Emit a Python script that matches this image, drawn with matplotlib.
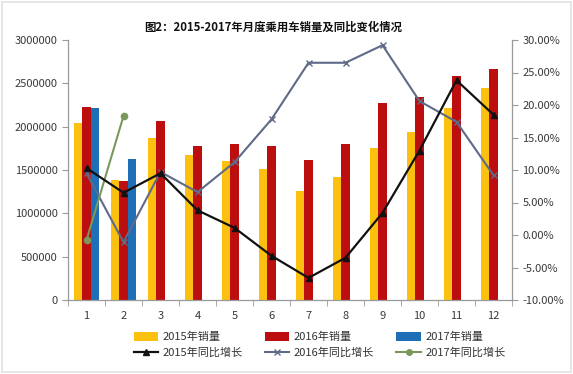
import matplotlib
matplotlib.use("Agg")
import matplotlib.pyplot as plt
import numpy as np
from matplotlib.patches import Patch, Rectangle
from matplotlib.lines import Line2D

plt.rcParams['font.family'] = ['Noto Sans CJK SC', 'DejaVu Sans']

months = ['1', '2', '3', '4', '5', '6', '7', '8', '9', '10', '11', '12']
sales_2015 = [2040000, 1390000, 1870000, 1670000, 1600000, 1510000,
              1260000, 1420000, 1750000, 1940000, 2210000, 2450000]
sales_2016 = [2230000, 1370000, 2060000, 1780000, 1800000, 1780000,
              1610000, 1800000, 2270000, 2340000, 2590000, 2670000]
sales_2017 = [2210000, 1630000]
growth_2015 = [10.3, 6.5, 9.5, 3.8, 1.1, -3.2, -6.6, -3.5, 3.4, 13.0, 23.8, 18.5]
growth_2016 = [9.5, -1.1, 9.7, 6.6, 11.2, 17.8, 26.5, 26.5, 29.2, 20.6, 17.4, 9.2]
growth_2017 = [-0.8, 18.3]

left_ticks = [0, 500000, 1000000, 1500000, 2000000, 2500000, 3000000]
right_ticks = [-10, -5, 0, 5, 10, 15, 20, 25, 30]

c15 = '#FCC010'
c16 = '#BC0E0E'
c17 = '#1E6FB5'
cl15 = '#111111'
cl16 = '#5E6A88'
cl17 = '#7A985A'
axis_c = '#9A9A9A'

fig = plt.figure(figsize=(5.73, 3.74), dpi=100, facecolor='white')
ax = fig.add_axes([68/573, 1-300/374, (512-68)/573, 260/374])
ax.set_facecolor('white')

x = np.arange(1, 13)
w = 0.23
ax.bar(x - w, sales_2015, w, color=c15, zorder=2)
ax.bar(x, sales_2016, w, color=c16, zorder=2)
x17 = np.arange(1, len(sales_2017) + 1)
ax.bar(x17 + w, sales_2017, w, color=c17, zorder=2)

ax.set_xlim(0.5, 12.5)
ax.set_ylim(0, 3000000)
ax.set_yticks(left_ticks)
ax.set_yticklabels([str(v) for v in left_ticks])
ax.set_xticks(x)
ax.set_xticklabels(months)
ax.set_xticks(np.arange(0.5, 13, 1), minor=True)
ax.tick_params(axis='x', which='major', length=0, pad=8, labelsize=8, colors='#3A3A3A')
ax.tick_params(axis='x', which='minor', length=4, color=axis_c, direction='out')
ax.tick_params(axis='y', length=4, color=axis_c, labelsize=8, labelcolor='#3A3A3A')
for s in ['top', 'right']:
    ax.spines[s].set_visible(False)
for s in ['left', 'bottom']:
    ax.spines[s].set_color(axis_c)
    ax.spines[s].set_linewidth(0.9)

ax2 = ax.twinx()
ax2.plot(x, growth_2015, color=cl15, lw=1.6, marker='^', ms=4, zorder=5)
ax2.plot(x, growth_2016, color=cl16, lw=1.5, marker='x', ms=4, mew=1, zorder=4)
ax2.plot(x17, growth_2017, color=cl17, lw=1.5, marker='o', ms=4.5, zorder=4)
ax2.set_ylim(-10, 30)
ax2.set_yticks(right_ticks)
ax2.set_yticklabels([f'{v:.2f}%' for v in right_ticks])
ax2.tick_params(axis='y', length=4, color=axis_c, labelsize=8, labelcolor='#3A3A3A')
for s in ['top', 'left', 'bottom']:
    ax2.spines[s].set_visible(False)
ax2.spines['right'].set_color(axis_c)
ax2.spines['right'].set_linewidth(0.9)

fig.text(273/573, 1-27/374, '图2：2015-2017年月度乘用车销量及同比变化情况',
         ha='center', va='center', fontsize=8.2, fontweight='bold', color='#111111')

handles = [
    Patch(facecolor=c15, edgecolor='none'),
    Line2D([], [], color=cl15, lw=1.6, marker='^', ms=4),
    Patch(facecolor=c16, edgecolor='none'),
    Line2D([], [], color=cl16, lw=1.5, marker='x', ms=4),
    Patch(facecolor=c17, edgecolor='none'),
    Line2D([], [], color=cl17, lw=1.5, marker='o', ms=4),
]
labels = ['2015年销量', '2015年同比增长', '2016年销量', '2016年同比增长',
          '2017年销量', '2017年同比增长']
fig.legend(handles, labels, ncol=3, loc='center left',
           bbox_to_anchor=(128/573, 1-345/374), frameon=False,
           fontsize=8, handlelength=2.2, handleheight=0.9, handletextpad=0.4,
           columnspacing=2.0, labelspacing=0.45, borderpad=0, labelcolor='#333333')

fig.patches.append(Rectangle((0.004, 0.006), 0.992, 0.988, transform=fig.transFigure,
                             fill=False, edgecolor='#E2E2E2', lw=1.2))

fig.savefig('out.png', dpi=100, facecolor='white')
